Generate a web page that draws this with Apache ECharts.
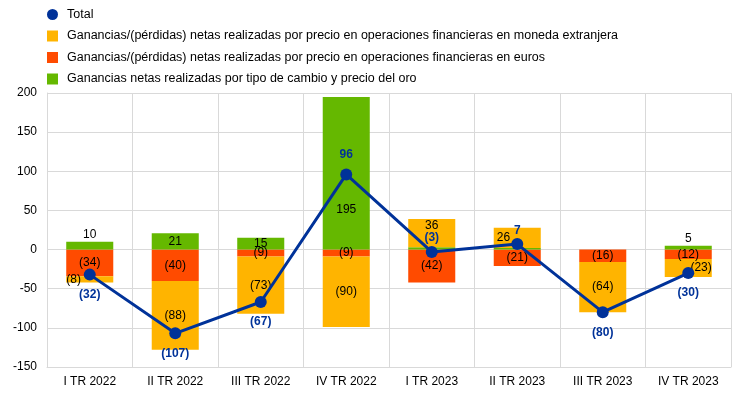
<!DOCTYPE html>
<html>
<head>
<meta charset="utf-8">
<script src="https://cdn.jsdelivr.net/npm/echarts@6/dist/echarts.min.js"></script>
<style>
  html, body { margin: 0; padding: 0; background: #fff; }
  #chart { width: 743px; height: 397px; }
</style>
</head>
<body>
<div id="chart"></div>
<script>
// data
const categories = ['I TR 2022', 'II TR 2022', 'III TR 2022', 'IV TR 2022', 'I TR 2023', 'II TR 2023', 'III TR 2023', 'IV TR 2023'];
const total = [-32, -107, -67, 96, -3, 7, -80, -30];
const foreignCcy = [-8, -88, -73, -90, 36, 26, -64, -23];
const euros = [-34, -40, -9, -9, -42, -21, -16, -12];
const fxGold = [10, 21, 15, 195, 3, 2, 0, 5];

const names = {
  total: 'Total',
  fc: 'Ganancias/(pérdidas) netas realizadas por precio en operaciones financieras en moneda extranjera',
  eur: 'Ganancias/(pérdidas) netas realizadas por precio en operaciones financieras en euros',
  gold: 'Ganancias netas realizadas por tipo de cambio y precio del oro'
};

const fmt = v => (v < 0 ? '(' + Math.abs(v) + ')' : String(v));

// per-point label tweaks
const fcLabels = { 0: { position: 'insideLeft', distance: 0 }, 4: { position: 'insideTop', distance: 1 }, 5: { position: 'insideLeft', distance: 3 }, 7: { position: 'insideRight', distance: 0 } };
const goldLabels = { 0: { position: 'top', distance: 1 }, 3: { position: 'inside', offset: [0, 36] }, 4: { show: false }, 5: { show: false }, 6: { show: false }, 7: { position: 'top', distance: 1 } };
const totalPos = ['bottom', 'bottom', 'bottom', 'top', 'top', 'top', 'bottom', 'bottom'];
const totalDist = [8, 8, 8, 8, 2, 1, 8, 8];

const withLabels = (arr, tweaks) => arr.map((v, i) => tweaks[i] ? { value: v, label: tweaks[i] } : v);

const font = 'Liberation Sans, Arial, sans-serif';
const barLabel = { show: true, position: 'inside', color: '#000', fontSize: 12, fontFamily: font, formatter: p => fmt(p.value) };

const chart = echarts.init(document.getElementById('chart'));
chart.setOption({
  animation: false,
  textStyle: { fontFamily: font },
  legend: {
    orient: 'vertical',
    left: 42,
    top: 3,
    itemWidth: 11,
    itemHeight: 11,
    itemGap: 8.5,
    textStyle: { fontSize: 12.5, color: '#000', fontFamily: font, padding: [0, 0, 0, 4] },
    data: [
      { name: names.total, icon: 'circle' },
      { name: names.fc, icon: 'rect' },
      { name: names.eur, icon: 'rect' },
      { name: names.gold, icon: 'rect' }
    ]
  },
  grid: { left: 47, right: 12, top: 93, bottom: 30 },
  xAxis: {
    type: 'category',
    data: categories,
    axisLine: { show: true, onZero: false, lineStyle: { color: '#d9d9d9' } },
    axisTick: { show: false },
    splitLine: { show: true, lineStyle: { color: '#d9d9d9' } },
    axisLabel: { color: '#000', fontSize: 12, fontFamily: font, margin: 9 }
  },
  yAxis: {
    type: 'value',
    min: -150,
    max: 200,
    interval: 50,
    axisLine: { show: true, lineStyle: { color: '#d9d9d9' } },
    axisTick: { show: false },
    splitLine: { lineStyle: { color: '#d9d9d9' } },
    axisLabel: { color: '#000', fontSize: 12, fontFamily: font, margin: 10 }
  },
  series: [
    {
      name: names.eur, type: 'bar', stack: 's', barWidth: '55%',
      itemStyle: { color: '#ff4b00' },
      label: barLabel,
      data: euros
    },
    {
      name: names.gold, type: 'bar', stack: 's',
      itemStyle: { color: '#65b800' },
      label: barLabel,
      data: withLabels(fxGold, goldLabels)
    },
    {
      name: names.fc, type: 'bar', stack: 's',
      itemStyle: { color: '#ffb400' },
      label: barLabel,
      data: withLabels(foreignCcy, fcLabels)
    },
    {
      name: names.total, type: 'line', z: 5,
      symbol: 'circle', symbolSize: 12,
      itemStyle: { color: '#003299' },
      lineStyle: { color: '#003299', width: 3 },
      label: { show: true, color: '#003299', fontWeight: 'bold', fontSize: 12, fontFamily: font, formatter: p => fmt(p.value) },
      data: total.map((v, i) => ({ value: v, label: { position: totalPos[i], distance: totalDist[i] } }))
    }
  ]
});
</script>
</body>
</html>
